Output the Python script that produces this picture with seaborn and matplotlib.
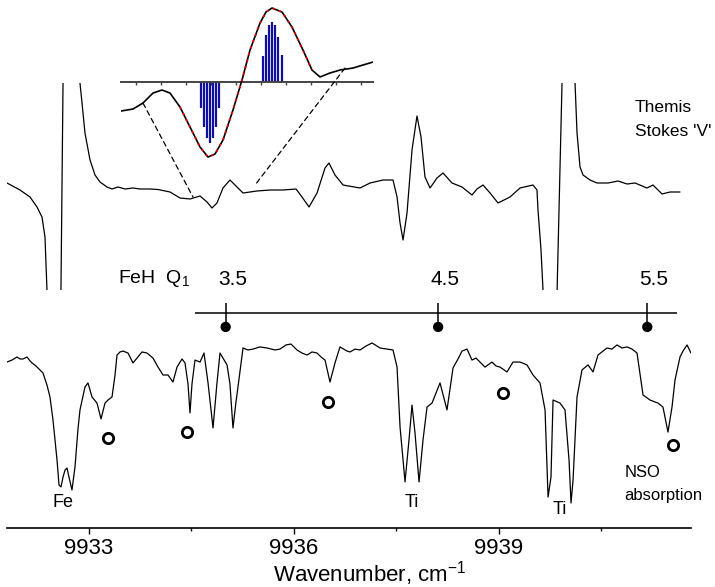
import numpy as np
import pandas as pd
import matplotlib
matplotlib.use("Agg")
import matplotlib.pyplot as plt
import seaborn as sns
from matplotlib.patches import ConnectionPatch

# Stokes V profile (Themis), wavenumber vs signal (clipped spikes go off-scale)
stokes_wn = [9931.800, 9931.990, 9932.137, 9932.239, 9932.312, 9932.356, 9932.385, 9932.429,
             9932.546, 9932.663, 9932.868, 9932.898, 9932.941, 9933.015, 9933.088, 9933.161,
             9933.263, 9933.337, 9933.424, 9933.527, 9933.644, 9933.747, 9933.893, 9934.010,
             9934.185, 9934.332, 9934.478, 9934.625, 9934.727, 9934.800, 9934.873, 9934.961,
             9935.063, 9935.166, 9935.254, 9935.459, 9935.649, 9935.839, 9936.030, 9936.117,
             9936.220, 9936.337, 9936.454, 9936.512, 9936.600, 9936.718, 9936.966, 9937.113,
             9937.303, 9937.449, 9937.508, 9937.552, 9937.596, 9937.654, 9937.727, 9937.800,
             9937.859, 9937.917, 9937.991, 9938.093, 9938.181, 9938.312, 9938.459, 9938.605,
             9938.678, 9938.766, 9938.869, 9938.986, 9939.161, 9939.308, 9939.498, 9939.556,
             9939.571, 9939.615, 9939.644, 9939.747, 9940.025, 9940.113, 9940.142, 9940.186,
             9940.230, 9940.332, 9940.435, 9940.596, 9940.742, 9940.874, 9940.991, 9941.166,
             9941.254, 9941.386, 9941.503, 9941.649]
stokes_v = [0.05, -0.02, -0.09, -0.19, -0.29, -0.49, -1.02, -4.0,
            -4.0, 4.0, 1.05, 0.85, 0.55, 0.28, 0.13, 0.06,
            0.01, -0.01, 0.01, -0.01, 0.00, -0.01, -0.01, -0.015,
            -0.04, -0.10, -0.11, -0.08, -0.14, -0.20, -0.15, 0.00,
            0.08, 0.01, -0.05, -0.03, -0.02, -0.02, -0.01, -0.09,
            -0.19, -0.05, 0.20, 0.25, 0.13, 0.03, 0.00, 0.05,
            0.08, 0.08, -0.09, -0.35, -0.52, -0.25, 0.38, 0.72,
            0.51, 0.11, 0.00, 0.10, 0.15, 0.05, 0.01, -0.07,
            -0.01, 0.03, -0.05, -0.15, -0.09, 0.00, 0.03, -0.02,
            -0.22, -0.62, -1.02, -4.0, 4.0, 1.05, 0.55, 0.21,
            0.13, 0.08, 0.05, 0.05, 0.07, 0.04, 0.05, 0.00,
            0.03, -0.06, -0.04, -0.04]

# Intensity spectrum (lower trace)
spec_wn = [9931.800, 9931.873, 9931.946, 9931.990, 9932.034, 9932.093, 9932.137, 9932.166,
           9932.224, 9932.283, 9932.327, 9932.385, 9932.429, 9932.473, 9932.532, 9932.561,
           9932.590, 9932.620, 9932.649, 9932.678, 9932.707, 9932.751, 9932.795, 9932.839,
           9932.868, 9932.941, 9932.985, 9933.044, 9933.117, 9933.176, 9933.205, 9933.234,
           9933.278, 9933.337, 9933.381, 9933.410, 9933.454, 9933.498, 9933.571, 9933.644,
           9933.703, 9933.776, 9933.849, 9933.937, 9934.010, 9934.083, 9934.156, 9934.229,
           9934.288, 9934.361, 9934.405, 9934.449, 9934.478, 9934.507, 9934.551, 9934.625,
           9934.683, 9934.742, 9934.815, 9934.873, 9934.917, 9935.020, 9935.063, 9935.107,
           9935.151, 9935.180, 9935.254, 9935.327, 9935.400, 9935.502, 9935.605, 9935.722,
           9935.795, 9935.883, 9935.956, 9936.044, 9936.117, 9936.191, 9936.264, 9936.337,
           9936.396, 9936.454, 9936.527, 9936.600, 9936.673, 9936.776, 9936.820, 9936.893,
           9936.966, 9937.054, 9937.142, 9937.259, 9937.361, 9937.449, 9937.508, 9937.552,
           9937.625, 9937.683, 9937.727, 9937.771, 9937.830, 9937.888, 9937.947, 9938.020,
           9938.137, 9938.239, 9938.327, 9938.400, 9938.459, 9938.532, 9938.605, 9938.664,
           9938.722, 9938.795, 9938.898, 9938.957, 9939.015, 9939.118, 9939.205, 9939.308,
           9939.410, 9939.498, 9939.600, 9939.674, 9939.718, 9939.761, 9939.791, 9939.893,
           9939.966, 9940.025, 9940.054, 9940.084, 9940.142, 9940.215, 9940.303, 9940.376,
           9940.449, 9940.581, 9940.654, 9940.727, 9940.801, 9940.874, 9940.947, 9941.020,
           9941.108, 9941.210, 9941.327, 9941.400, 9941.473, 9941.532, 9941.576, 9941.649,
           9941.693, 9941.752, 9941.781, 9941.810]
spec_i = [0.922, 0.933, 0.950, 0.939, 0.939, 0.950, 0.928, 0.917,
          0.900, 0.878, 0.861, 0.794, 0.728, 0.600, 0.378, 0.239,
          0.228, 0.283, 0.322, 0.333, 0.283, 0.211, 0.339, 0.550,
          0.656, 0.783, 0.806, 0.728, 0.694, 0.606, 0.650, 0.694,
          0.711, 0.728, 0.850, 0.961, 0.978, 0.983, 0.972, 0.917,
          0.944, 0.978, 0.972, 0.944, 0.894, 0.850, 0.850, 0.811,
          0.894, 0.939, 0.917, 0.800, 0.639, 0.800, 0.933, 0.922,
          0.972, 0.806, 0.556, 0.806, 0.972, 0.906, 0.800, 0.556,
          0.700, 0.783, 1.000, 0.989, 0.994, 1.006, 1.000, 0.989,
          0.994, 1.017, 1.022, 0.989, 0.972, 0.961, 0.978, 0.972,
          0.950, 0.933, 0.811, 0.917, 1.006, 0.983, 0.978, 0.994,
          0.989, 1.011, 1.028, 1.000, 0.994, 0.989, 0.894, 0.561,
          0.256, 0.489, 0.683, 0.528, 0.256, 0.489, 0.672, 0.694,
          0.806, 0.656, 0.889, 0.939, 0.983, 0.994, 0.933, 0.944,
          0.922, 0.894, 0.922, 0.900, 0.894, 0.867, 0.922, 0.922,
          0.906, 0.850, 0.806, 0.656, 0.172, 0.283, 0.711, 0.694,
          0.656, 0.378, 0.139, 0.267, 0.728, 0.878, 0.906, 0.867,
          0.961, 1.000, 0.994, 1.017, 1.000, 1.006, 0.994, 0.972,
          0.739, 0.711, 0.694, 0.672, 0.533, 0.672, 0.822, 0.950,
          0.983, 1.017, 0.994, 0.972]

# blends marked with open circles
blend_wn = [9933.278, 9934.434, 9936.498, 9939.059, 9941.547]
blend_i = [0.500, 0.533, 0.700, 0.750, 0.461]

# FeH Q1 branch positions
feh_wn = [9935.00, 9938.11, 9941.17]
feh_labels = ["3.5", "4.5", "5.5"]
feh_span = [9934.55, 9941.60]

# line identifications
line_ids = ["Fe", "Ti", "Ti"]
line_wn = [9932.620, 9937.727, 9939.893]

# inset: zoomed Stokes V of the FeH 3.5 line, model fit and Zeeman components
inset_wn = [9934.440, 9934.488, 9934.528, 9934.568, 9934.604, 9934.636, 9934.676, 9934.716,
            9934.756, 9934.788, 9934.816, 9934.848, 9934.888, 9934.924, 9934.956, 9934.996,
            9935.020, 9935.044, 9935.084, 9935.124, 9935.168, 9935.204, 9935.236, 9935.276,
            9935.316, 9935.368, 9935.408, 9935.448]
inset_v = [-0.392, -0.365, -0.284, -0.149, -0.108, -0.149, -0.338, -0.608,
           -0.878, -1.014, -0.973, -0.784, -0.378, 0.027, 0.432, 0.797,
           0.946, 1.000, 0.946, 0.743, 0.432, 0.162, 0.068, 0.122,
           0.162, 0.189, 0.230, 0.270]
fit_wn = [9934.676, 9934.716, 9934.756, 9934.788, 9934.816, 9934.848, 9934.888, 9934.924,
          9934.956, 9934.996, 9935.020, 9935.044, 9935.084, 9935.124, 9935.168, 9935.204]
fit_v = [-0.338, -0.608, -0.878, -1.014, -0.973, -0.784, -0.378, 0.027,
         0.432, 0.797, 0.946, 1.000, 0.946, 0.743, 0.432, 0.162]
comp_wn = [9934.760, 9934.772, 9934.784, 9934.796, 9934.808, 9934.820, 9934.832,
           9935.008, 9935.020, 9935.032, 9935.044, 9935.056, 9935.068, 9935.084]
comp_v = [-0.351, -0.608, -0.757, -0.824, -0.757, -0.608, -0.351,
          0.351, 0.635, 0.770, 0.811, 0.770, 0.608, 0.365]

sns.set_theme(style="white")
plt.rcParams["font.family"] = ["Liberation Sans", "DejaVu Sans"]
plt.rcParams["mathtext.fontset"] = "custom"
plt.rcParams["mathtext.rm"] = "Liberation Sans"
plt.rcParams["mathtext.it"] = "Liberation Sans"
plt.rcParams["text.color"] = "black"
plt.rcParams["axes.labelcolor"] = "black"
plt.rcParams["xtick.color"] = "black"

W, H = 715, 587
fig = plt.figure(figsize=(W / 100, H / 100), dpi=100)

def box(x0, x1, y_top, y_bot):
    return [x0 / W, 1 - y_bot / H, (x1 - x0) / W, (y_bot - y_top) / H]

xlim = (9931.80, 9941.81)

# main axis: intensity spectrum + FeH markers
ax = fig.add_axes(box(7, 691, 0, 528))
ax.set_facecolor("none")
spec = pd.DataFrame({"wn": spec_wn, "i": spec_i})
sns.lineplot(data=spec, x="wn", y="i", sort=False, estimator=None, color="black", lw=0.9, ax=ax)
sns.scatterplot(x=blend_wn, y=blend_i, marker="o", s=55, facecolor="white",
                edgecolor="black", linewidth=2, ax=ax, zorder=5)

ax.hlines(1.194, *feh_span, color="black", lw=1.1)
ax.vlines(feh_wn, 1.117, 1.25, color="black", lw=1.1)
sns.scatterplot(x=feh_wn, y=[1.117] * 3, color="black", s=55, edgecolor="none", ax=ax, zorder=5)
for w, lab in zip(feh_wn, feh_labels):
    ax.text(w + 0.1, 1.33, lab, ha="center", va="bottom", fontsize=15)
ax.text(9933.42, 1.33, "FeH  Q$_1$", ha="left", va="bottom", fontsize=14)

for w, lab in zip(line_wn, line_ids):
    dy = 0.04 if lab == "Ti" and w > 9939 else 0.0
    ax.text(w, 0.14 - dy, lab, ha="center", va="center", fontsize=13)
ax.text(9940.84, 0.306, "NSO", ha="left", va="center", fontsize=12)
ax.text(9940.84, 0.178, "absorption", ha="left", va="center", fontsize=12)

ax.set_xlim(*xlim)
ax.set_ylim(0, 528 / 180)
for s in ["top", "left", "right"]:
    ax.spines[s].set_visible(False)
ax.spines["bottom"].set_color("black")
ax.spines["bottom"].set_linewidth(1.2)
ax.set_yticks([])
ax.set_ylabel("")
ax.set_xticks([9933, 9936, 9939])
ax.set_xticks([9934.5, 9937.5, 9940.5], minor=True)
ax.tick_params(axis="x", which="major", bottom=True, direction="out", length=4, width=1, pad=3, labelsize=16)
ax.tick_params(axis="x", which="minor", bottom=True, direction="out", length=2, width=1)
ax.set_xlabel("Wavenumber, cm$^{-1}$", fontsize=16, labelpad=0)
ax.xaxis.set_label_coords(0.53, -0.058)

# Stokes V axis (clipped)
axv = fig.add_axes(box(7, 691, 83, 290))
axv.set_facecolor("none")
sv = pd.DataFrame({"wn": stokes_wn, "v": stokes_v})
sns.lineplot(data=sv, x="wn", y="v", sort=False, estimator=None, color="black", lw=0.9, ax=axv)
axv.set_xlim(*xlim)
axv.set_ylim(-1.02, 1.05)
axv.axis("off")
fig.text(635 / W, 1 - 108 / H, "Themis", ha="left", va="center", fontsize=12.5)
fig.text(635 / W, 1 - 132 / H, "Stokes 'V'", ha="left", va="center", fontsize=12.5)

# inset
axi = fig.add_axes(box(121, 373, 5, 160))
axi.set_facecolor("none")
sns.lineplot(x=inset_wn, y=inset_v, sort=False, estimator=None, color="black", lw=1.2, ax=axi, zorder=3)
sns.lineplot(x=fit_wn, y=fit_v, sort=False, estimator=None, color="red", lw=1.4,
             linestyle=(0, (1, 2.5)), ax=axi, zorder=4)
axi.vlines(comp_wn, 0, comp_v, color="#1010a0", lw=1.6, zorder=2)
axi.set_xlim(9934.44, 9935.448)
axi.set_ylim(-1.054, 1.041)
for s in ["top", "left", "right"]:
    axi.spines[s].set_visible(False)
axi.spines["bottom"].set_position(("data", 0))
axi.spines["bottom"].set_color("#444444")
axi.spines["bottom"].set_linewidth(1.4)
axi.set_yticks([])
axi.set_ylabel("")
axi.set_xticks(np.arange(9934.5, 9935.41, 0.1))
axi.set_xticklabels([])
axi.tick_params(axis="x", bottom=True, direction="out", length=2, width=1, color="#444444")

for (xa, ya), (xb, yb) in [((9934.528, -0.284), (9934.522, -0.09)),
                           ((9935.336, 0.189), (9935.430, 0.03))]:
    con = ConnectionPatch(xyA=(xa, ya), coordsA=axi.transData, xyB=(xb, yb), coordsB=axv.transData,
                          linestyle=(0, (4, 3)), color="black", lw=0.9)
    fig.add_artist(con)

fig.savefig("out.png", dpi=100)
